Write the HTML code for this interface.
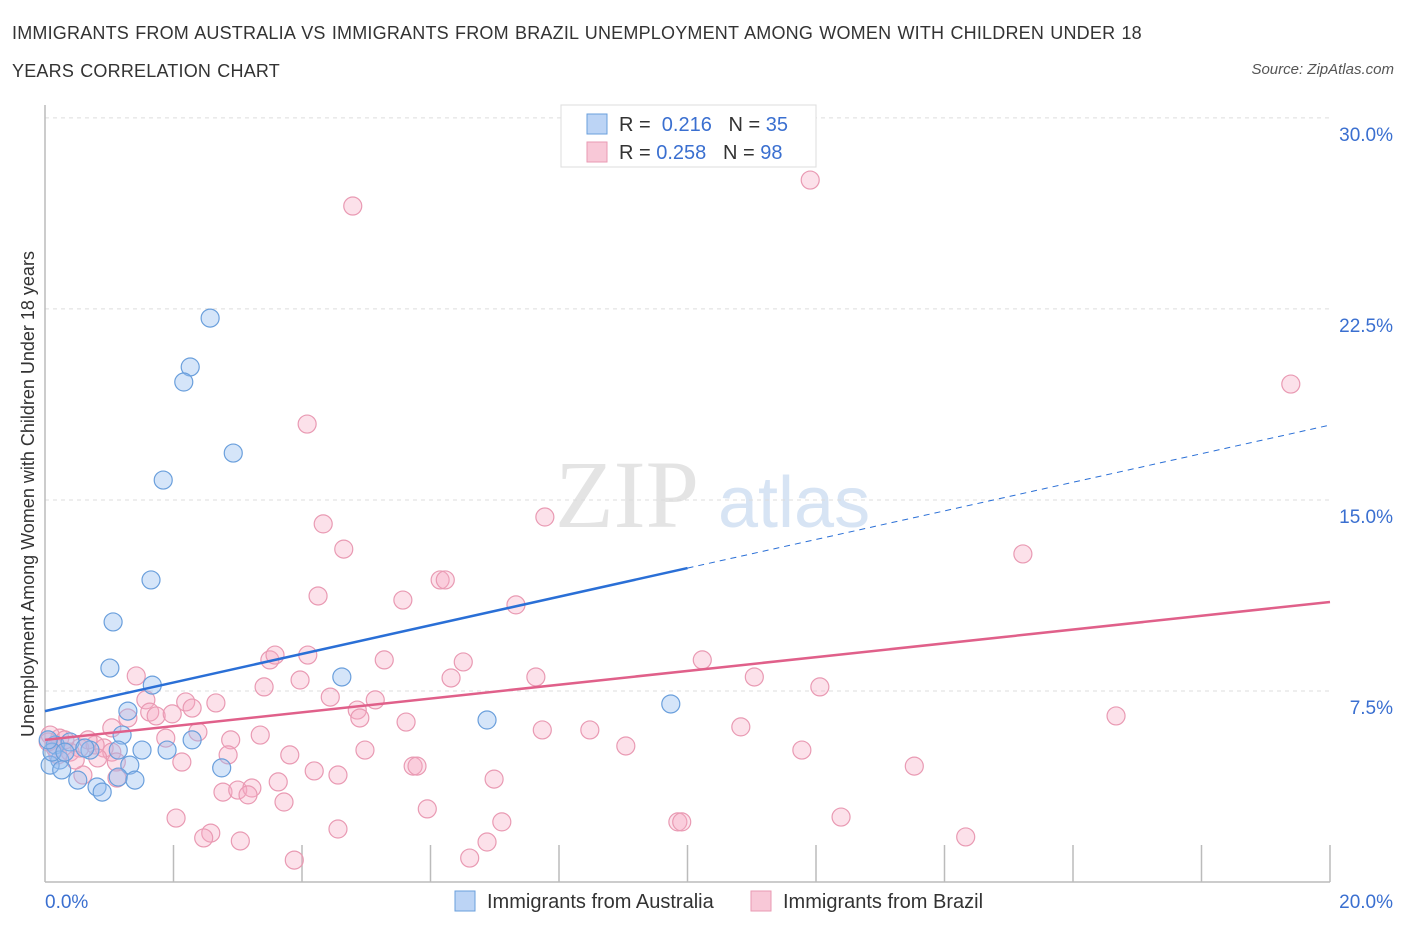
<!DOCTYPE html>
<html><head><meta charset="utf-8"><style>
body{margin:0;background:#fff;font-family:"Liberation Sans",sans-serif;}
#wrap{position:relative;width:1406px;height:930px;overflow:hidden;}
.t{position:absolute;white-space:nowrap;}
</style></head><body>
<div id="wrap">
<div class="t" style="left:12px;top:14px;font-size:18px;color:#333;line-height:38px;letter-spacing:0.2px;word-spacing:1px;">IMMIGRANTS FROM AUSTRALIA VS IMMIGRANTS FROM BRAZIL UNEMPLOYMENT AMONG WOMEN WITH CHILDREN UNDER 18<br>YEARS CORRELATION CHART</div>
<div class="t" style="right:12px;top:61px;font-size:15px;color:#555;font-style:italic;">Source: ZipAtlas.com</div>
<svg id="svg" width="1406" height="930" style="position:absolute;left:0;top:0"></svg>
</div>
<script>
const yTicks=[7.5,15,22.5,30];
const yTickLabels=["7.5%","15.0%","22.5%","30.0%"];
const xTickCount=10;
const blueX=[2.57,2.26,2.16,2.93,1.84,1.65,1.06,1.01,1.67,4.62,1.29,6.88,9.74,1.20,2.29,1.51,1.90,0.16,0.39,0.70,1.14,0.23,0.08,0.26,1.32,2.75,0.51,0.81,1.14,1.40,0.89,0.11,0.62,0.31,0.05];
const blueY=[22.14,20.22,19.63,16.84,15.78,11.86,10.21,8.40,7.73,8.05,6.71,6.36,6.99,5.77,5.58,5.18,5.18,5.38,5.50,5.18,5.18,4.79,4.59,4.40,4.59,4.48,4.00,3.73,4.12,4.00,3.53,5.10,5.26,5.10,5.58];
const pinkX=[11.91,4.79,19.39,4.08,4.33,7.78,4.65,15.22,6.15,6.23,4.25,5.57,7.33,3.50,3.58,4.09,5.28,6.51,10.23,1.42,3.97,3.41,6.32,7.64,11.04,12.06,4.44,2.19,2.66,5.14,1.57,2.29,1.63,1.73,4.86,4.90,1.98,16.67,5.62,1.29,1.04,2.38,7.74,8.48,10.83,3.35,2.89,1.88,9.04,11.78,0.92,1.04,4.98,3.81,2.85,2.13,5.73,5.79,13.53,1.11,4.19,4.56,6.99,3.63,0.59,1.12,2.77,3.00,3.22,3.16,3.72,5.95,7.11,9.85,9.91,12.39,2.04,2.58,2.47,3.04,4.56,14.33,6.88,6.61,3.88,0.23,0.08,0.16,0.39,0.54,0.78,0.47,0.67,0.82,0.31,0.20,0.05];
const pinkY=[27.56,26.54,19.55,17.98,14.06,14.33,13.07,12.88,11.86,11.86,11.23,11.07,10.88,8.72,8.91,8.91,8.72,8.64,8.72,8.09,7.93,7.66,8.01,8.05,8.05,7.66,7.26,7.07,7.03,7.15,7.15,6.83,6.67,6.52,6.75,6.44,6.60,6.52,6.28,6.44,6.05,5.89,5.97,5.97,6.09,5.77,5.58,5.65,5.34,5.18,5.26,5.10,5.18,4.99,4.99,4.71,4.55,4.55,4.55,4.71,4.36,4.20,4.04,3.93,4.20,4.08,3.53,3.61,3.69,3.42,3.14,2.87,2.36,2.36,2.36,2.55,2.51,1.92,1.73,1.61,2.08,1.77,1.57,0.94,0.86,5.65,5.77,5.26,5.10,5.26,5.38,4.79,5.58,4.87,5.58,4.99,5.50];
const blueTrend=[6.71,0.5615];
const pinkTrend=[5.58,0.2707];
const X0=45,X1=1330,Y0=882,PXY=25.47;
const sx=v=>X0+v*(X1-X0)/20, sy=v=>Y0-v*PXY;
const svg=document.getElementById('svg');const NS='http://www.w3.org/2000/svg';
function mk(t,a,p){const e=document.createElementNS(NS,t);for(const k in a)e.setAttribute(k,a[k]);(p||svg).appendChild(e);return e;}
let w=mk('text',{x:555,y:527,'font-size':96,'font-family':'Liberation Serif,serif',fill:'#e4e4e4'});w.textContent='ZIP';


let w2=mk('text',{x:718,y:527,'font-size':72,'font-family':'Liberation Sans,sans-serif',fill:'#d7e4f4'});w2.textContent='atlas';


yTicks.forEach((v,i)=>{
 const g=mk('line',{x1:X0,x2:X1,y1:sy(v),y2:sy(v),stroke:'#ddd','stroke-dasharray':'4,4'});
 
 
 const t=mk('text',{x:1393,y:sy(v)+23,'text-anchor':'end','font-size':19,fill:'#3a6fd0'});t.textContent=yTickLabels[i];
 
 
});
let ax=mk('line',{x1:X0,x2:X0,y1:105,y2:Y0,stroke:'#bbb','stroke-width':1.5});


let axx=mk('line',{x1:X0,x2:X1,y1:Y0,y2:Y0,stroke:'#bbb','stroke-width':1.5});


for(let i=1;i<=xTickCount;i++){const tk=mk('line',{x1:sx(i*2),x2:sx(i*2),y1:845,y2:Y0,stroke:'#bbb','stroke-width':1.5});
 
 }
let xl=mk('text',{x:45,y:908,'font-size':19,fill:'#3a6fd0'});xl.textContent='0.0%';


let xr=mk('text',{x:1393,y:908,'font-size':19,fill:'#3a6fd0','text-anchor':'end'});xr.textContent='20.0%';


let yt=mk('text',{x:0,y:0,'font-size':18,fill:'#333','text-anchor':'middle',transform:'translate(34,494) rotate(-90)'});yt.textContent='Unemployment Among Women with Children Under 18 years';


function pts(xs,ys,fill,stroke,name){xs.forEach((x,i)=>{const c=mk('circle',{cx:sx(x),cy:sy(ys[i]),r:9,fill:fill,stroke:stroke,'stroke-width':1.2});
 
 });}
pts(pinkX,pinkY,'rgba(245,170,195,0.35)','#e99ab3','brazil-point');
pts(blueX,blueY,'rgba(150,190,240,0.4)','#6a9fdc','australia-point');
let bl=mk('line',{x1:sx(0),y1:sy(blueTrend[0]),x2:sx(10),y2:sy(blueTrend[0]+10*blueTrend[1]),stroke:'#2a6fd6','stroke-width':2.5});


let bd=mk('line',{x1:sx(10),y1:sy(blueTrend[0]+10*blueTrend[1]),x2:sx(20),y2:sy(blueTrend[0]+20*blueTrend[1]),stroke:'#2a6fd6','stroke-width':1,'stroke-dasharray':'6,5'});


let pl=mk('line',{x1:sx(0),y1:sy(pinkTrend[0]),x2:sx(20),y2:sy(pinkTrend[0]+20*pinkTrend[1]),stroke:'#e0608a','stroke-width':2.5});


let lb=mk('rect',{x:561,y:105,width:255,height:62,fill:'#fff',stroke:'#ddd'});


function lrow(y,fill,stroke,r,n,name){
 const s=mk('rect',{x:587,y:y-9,width:20,height:20,fill:fill,stroke:stroke});
 
 
 const t=mk('text',{x:619,y:y+8,'font-size':20,fill:'#333'});
 t.innerHTML='R = <tspan fill="#3a6fd0">'+r+'</tspan>   N = <tspan fill="#3a6fd0">'+n+'</tspan>';
 t.style.whiteSpace='pre';
 
 }
lrow(123,'#bcd4f5','#6a9fdc',' 0.216','35','australia');
lrow(151,'#f8c8d7','#e99ab3','0.258','98','brazil');
function bleg(x,fill,stroke,label,name){
 const s=mk('rect',{x:x,y:891,width:20,height:20,fill:fill,stroke:stroke});
 
 
 const t=mk('text',{x:x+32,y:908,'font-size':20,fill:'#333'});t.textContent=label;
 
 }
bleg(455,'#bcd4f5','#6a9fdc','Immigrants from Australia','australia');
bleg(751,'#f8c8d7','#e99ab3','Immigrants from Brazil','brazil');
</script>
</body></html>
